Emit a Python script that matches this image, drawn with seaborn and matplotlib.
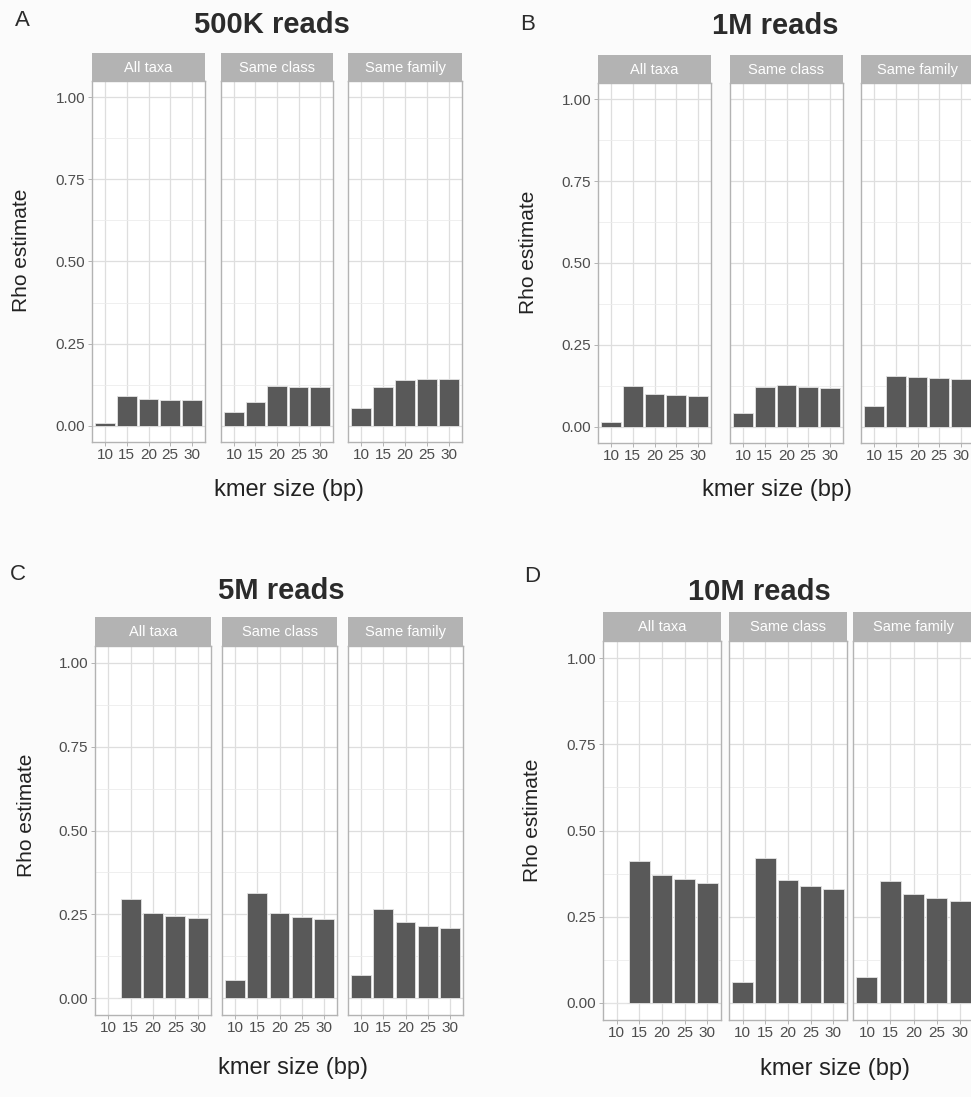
import matplotlib
matplotlib.use("Agg")
import matplotlib.pyplot as plt
import numpy as np
import pandas as pd
import seaborn as sns

# ---- data -------------------------------------------------------------
kmer_sizes = ["10", "15", "20", "25", "30"]
comparisons = ["All taxa", "Same class", "Same family"]

rho_500k_all = [0.009, 0.089, 0.080, 0.078, 0.077]
rho_500k_class = [0.040, 0.073, 0.122, 0.119, 0.117]
rho_500k_family = [0.055, 0.117, 0.140, 0.142, 0.141]

rho_1m_all = [0.013, 0.125, 0.100, 0.096, 0.093]
rho_1m_class = [0.041, 0.122, 0.126, 0.121, 0.119]
rho_1m_family = [0.063, 0.156, 0.151, 0.148, 0.146]

rho_5m_all = [0.002, 0.295, 0.255, 0.246, 0.238]
rho_5m_class = [0.055, 0.313, 0.254, 0.242, 0.236]
rho_5m_family = [0.068, 0.265, 0.226, 0.216, 0.210]

rho_10m_all = [0.000, 0.412, 0.371, 0.359, 0.349]
rho_10m_class = [0.060, 0.420, 0.356, 0.340, 0.330]
rho_10m_family = [0.074, 0.353, 0.317, 0.304, 0.295]

depth_titles = ["500K reads", "1M reads", "5M reads", "10M reads"]
panel_letters = ["A", "B", "C", "D"]
y_ticks = [0.0, 0.25, 0.5, 0.75, 1.0]
y_ticklabels = ["0.00", "0.25", "0.50", "0.75", "1.00"]

series = {
    "500K reads": [rho_500k_all, rho_500k_class, rho_500k_family],
    "1M reads": [rho_1m_all, rho_1m_class, rho_1m_family],
    "5M reads": [rho_5m_all, rho_5m_class, rho_5m_family],
    "10M reads": [rho_10m_all, rho_10m_class, rho_10m_family],
}

rows = []
for depth, groups in series.items():
    for comp, vals in zip(comparisons, groups):
        for k, v in zip(kmer_sizes, vals):
            rows.append({"depth": depth, "comparison": comp, "kmer": k, "rho": v})
df = pd.DataFrame(rows)

# ---- layout (pixel boxes) ---------------------------------------------
W, H = 971, 1097
layout = {
    "500K reads": dict(facets=[(92, 205), (221, 333), (348, 462)], strip=(53, 81), bottom=442,
                       title=(272, 25), letter=(22, 21), ylab=(22, 250), xlab=(289, 490)),
    "1M reads": dict(facets=[(598, 711), (730, 843), (861, 974)], strip=(55, 83), bottom=443,
                     title=(775, 26), letter=(528, 25), ylab=(528, 252), xlab=(777, 490)),
    "5M reads": dict(facets=[(95, 211), (222, 337), (348, 463)], strip=(617, 646), bottom=1015,
                     title=(281, 591), letter=(18, 575), ylab=(26, 815), xlab=(293, 1068)),
    "10M reads": dict(facets=[(603, 721), (729, 847), (853, 974)], strip=(612, 641), bottom=1020,
                      title=(759, 592), letter=(532, 577), ylab=(533, 820), xlab=(835, 1069)),
}


def box(l, t, r, b):
    return [l / W, 1 - b / H, (r - l) / W, (b - t) / H]


sns.set_theme(style="white")
plt.rcParams["font.family"] = ["Liberation Sans", "DejaVu Sans"]

BAR = "#595959"
BORDER = "#B3B3B3"
STRIP = "#B3B3B3"
GRID = "#DEDEDE"
GRID_MINOR = "#ECECEC"
TICKTXT = "#4D4D4D"

fig = plt.figure(figsize=(W / 100, H / 100), dpi=100, facecolor="#FBFBFB")

for depth, letter in zip(depth_titles, panel_letters):
    lay = layout[depth]
    st, sb = lay["strip"]
    for i, (comp, (l, r)) in enumerate(zip(comparisons, lay["facets"])):
        ax = fig.add_axes(box(l, sb, r, lay["bottom"]))
        ax.set_facecolor("white")
        sub = df[(df.depth == depth) & (df.comparison == comp)]
        sns.barplot(data=sub, x="kmer", y="rho", order=kmer_sizes, color=BAR,
                    saturation=1, width=0.9, errorbar=None, ax=ax,
                    edgecolor="#E4E4E4", linewidth=0.6, zorder=3)
        ax.set_xlim(-0.6, 4.6)
        ax.set_ylim(-0.05, 1.05)
        ax.set_yticks(y_ticks)
        ax.set_yticks([0.125, 0.375, 0.625, 0.875], minor=True)
        ax.grid(True, which="major", color=GRID, linewidth=0.9, zorder=0)
        ax.grid(True, which="minor", axis="y", color=GRID_MINOR, linewidth=0.6, zorder=0)
        ax.set_axisbelow(True)
        for s in ax.spines.values():
            s.set_color(BORDER)
            s.set_linewidth(1.0)
            s.set_zorder(4)
        ax.tick_params(axis="x", which="major", length=3, width=0.7, color=BORDER,
                       labelsize=11, labelcolor=TICKTXT, pad=1.5, bottom=True)
        ax.tick_params(axis="y", which="both", length=0, left=False)
        if i == 0:
            ax.set_yticklabels(y_ticklabels)
            ax.tick_params(axis="y", which="major", length=3, width=0.7, color=BORDER,
                           labelsize=11, labelcolor=TICKTXT, pad=2, left=True)
        else:
            ax.set_yticklabels([])
        ax.set_xlabel("")
        ax.set_ylabel("")

        sax = fig.add_axes(box(l, st, r, sb))
        sax.set_facecolor(STRIP)
        sax.set_xticks([])
        sax.set_yticks([])
        for s in sax.spines.values():
            s.set_visible(False)
        sax.text(0.5, 0.47, comp, ha="center", va="center", color="white",
                 fontsize=10.5, transform=sax.transAxes)

    tx, ty = lay["title"]
    fig.text(tx / W, 1 - ty / H, depth, ha="center", va="center",
             fontsize=21, fontweight="bold", color="#2B2B2B")
    lx, ly = lay["letter"]
    fig.text(lx / W, 1 - ly / H, letter, ha="center", va="center",
             fontsize=16, color="#2B2B2B")
    yx, yy = lay["ylab"]
    fig.text(yx / W, 1 - yy / H, "Rho estimate", ha="center", va="center",
             rotation=90, fontsize=15, color="#222222")
    xx, xy = lay["xlab"]
    fig.text(xx / W, 1 - xy / H, "kmer size (bp)", ha="center", va="center",
             fontsize=17, color="#222222")

fig.savefig("out.png", dpi=100, facecolor=fig.get_facecolor())
